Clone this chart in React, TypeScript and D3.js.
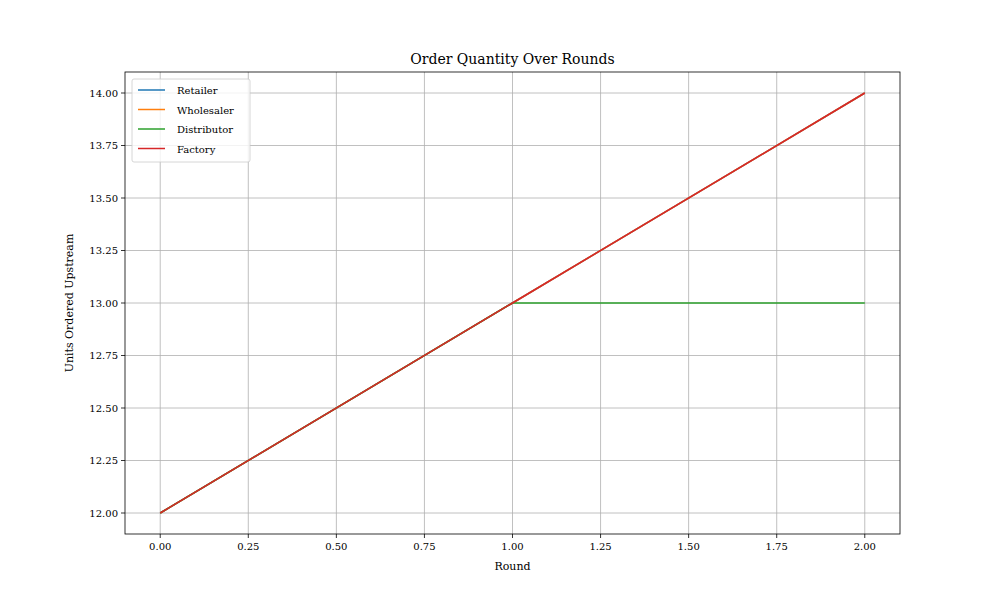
import React from "react";
import * as d3 from "d3";

const rounds = [0, 1, 2];
const seriesNames = ["Retailer", "Wholesaler", "Distributor", "Factory"];
const retailer = [12, 13, 14];
const wholesaler = [12, 13, 14];
const distributor = [12, 13, 13];
const factory = [12, 13, 14];
const colors = ["#1f77b4", "#ff7f0e", "#2ca02c", "#d62728"];
const xTicks = [0, 0.25, 0.5, 0.75, 1, 1.25, 1.5, 1.75, 2];
const yTicks = [12, 12.25, 12.5, 12.75, 13, 13.25, 13.5, 13.75, 14];

export default function App() {
  const L = 125, R = 900, T = 72, B = 534;
  const x = d3.scaleLinear().domain([-0.1, 2.1]).range([L, R]);
  const y = d3.scaleLinear().domain([11.9, 14.1]).range([B, T]);
  const all = [retailer, wholesaler, distributor, factory];
  const line = d3.line<number>().x((_, i) => x(rounds[i])).y((v) => y(v));
  const font = "DejaVu Serif, serif";
  return (
    <div style={{ position: "absolute", left: 0, top: 0 }}>
      <svg width={1000} height={600} style={{ fontFamily: font, display: "block" }}>
        <rect width={1000} height={600} fill="#fff" />
        {xTicks.map((t) => (
          <g key={"x" + t}>
            <line x1={x(t)} x2={x(t)} y1={T} y2={B} stroke="#b0b0b0" strokeWidth={0.8} />
            <line x1={x(t)} x2={x(t)} y1={B} y2={B + 4} stroke="#000" strokeWidth={0.8} />
            <text x={x(t)} y={B + 16} fontSize={10} textAnchor="middle">{t.toFixed(2)}</text>
          </g>
        ))}
        {yTicks.map((t) => (
          <g key={"y" + t}>
            <line x1={L} x2={R} y1={y(t)} y2={y(t)} stroke="#b0b0b0" strokeWidth={0.8} />
            <line x1={L - 4} x2={L} y1={y(t)} y2={y(t)} stroke="#000" strokeWidth={0.8} />
            <text x={L - 7} y={y(t) + 3.5} fontSize={10} textAnchor="end">{t.toFixed(2)}</text>
          </g>
        ))}
        {all.map((s, i) => (
          <path key={i} d={line(s) || ""} fill="none" stroke={colors[i]} strokeWidth={1.5} />
        ))}
        <rect x={L} y={T} width={R - L} height={B - T} fill="none" stroke="#000" strokeWidth={0.8} />
        <text x={(L + R) / 2} y={64} fontSize={14} textAnchor="middle">Order Quantity Over Rounds</text>
        <text x={(L + R) / 2} y={570} fontSize={11} textAnchor="middle">Round</text>
        <text transform={`translate(73,${(T + B) / 2}) rotate(-90)`} fontSize={11} textAnchor="middle">Units Ordered Upstream</text>
        <rect x={132} y={79} width={118} height={83} rx={2} fill="#fff" fillOpacity={0.8} stroke="#ccc" strokeWidth={0.8} />
        {seriesNames.map((n, i) => (
          <g key={n}>
            <line x1={138} x2={165} y1={90 + i * 19.5} y2={90 + i * 19.5} stroke={colors[i]} strokeWidth={1.5} />
            <text x={177} y={94 + i * 19.5} fontSize={10}>{n}</text>
          </g>
        ))}
      </svg>
    </div>
  );
}
